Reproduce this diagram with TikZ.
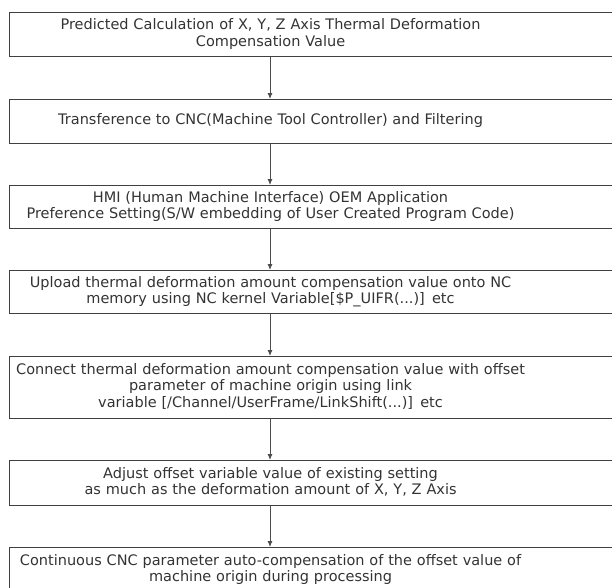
\documentclass[tikz,border=0pt]{standalone}
\usepackage{fontspec}
\setmainfont{DejaVu Sans}
\usetikzlibrary{arrows.meta}
\newcommand\stepline[1]{\makebox[518pt]{\begin{tabular}{@{}c@{}}#1\end{tabular}}}

\begin{document}
\begin{tikzpicture}[x=1pt,y=1pt,
        stepbox/.style={draw=black!75, line width=1.1pt, anchor=north west,
            text width=604pt, align=left, inner xsep=2pt, inner ysep=0pt,
            font=\fontsize{14.5}{16.5}\selectfont, text=black!80},
        flow/.style={draw=black!70, line width=0.9pt, -{Latex[length=6pt,width=5pt]}}
    ]
    \useasboundingbox (0,0) rectangle (612,-587);
    \coordinate (mid) at (270,0);
    \node[stepbox, minimum height=44pt] (s1) at (9,-12)
        {\stepline{Predicted Calculation of X, Y, Z Axis Thermal Deformation\\ Compensation Value}};
    \node[stepbox, minimum height=44pt] (s2) at (9,-99)
        {\stepline{Transference to CNC(Machine Tool Controller) and Filtering}};
    \node[stepbox, minimum height=43pt] (s3) at (9,-185)
        {\stepline{HMI (Human Machine Interface) OEM Application\\ Preference Setting(S/W embedding of User Created Program Code)}};
    \node[stepbox, minimum height=43pt] (s4) at (9,-270)
        {\stepline{Upload thermal deformation amount compensation value onto NC\\ memory using NC kernel Variable[\$P\_UIFR(...)] etc}};
    \node[stepbox, minimum height=62pt] (s5) at (9,-356)
        {\stepline{Connect thermal deformation amount compensation value with offset\\ parameter of machine origin using link\\ variable [/Channel/UserFrame/LinkShift(...)] etc}};
    \node[stepbox, minimum height=45pt] (s6) at (9,-460)
        {\stepline{Adjust offset variable value of existing setting\\ as much as the deformation amount of X, Y, Z Axis}};
    \node[stepbox, minimum height=45pt] (s7) at (9,-547)
        {\stepline{Continuous CNC parameter auto-compensation of the offset value of\\ machine origin during processing}};
    \foreach \a/\b in {s1/s2,s2/s3,s3/s4,s4/s5,s5/s6,s6/s7}
        \draw[flow] (\a.south -| mid) -- (\b.north -| mid);
\end{tikzpicture}
\end{document}
